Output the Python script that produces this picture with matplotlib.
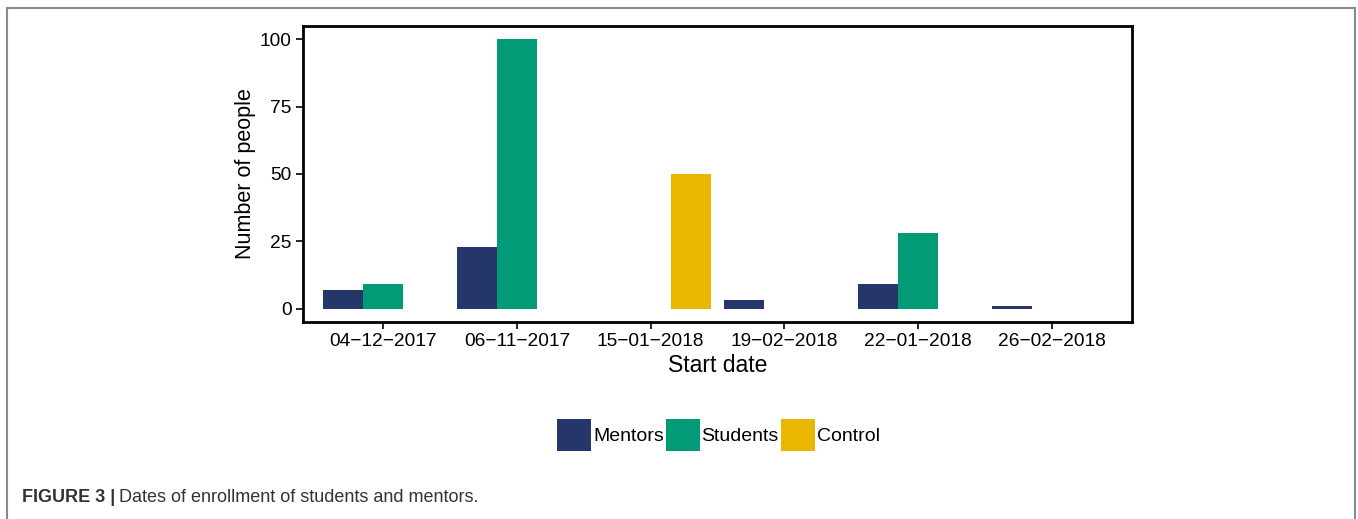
import numpy as np
import matplotlib.pyplot as plt
from matplotlib.lines import Line2D

plt.rcParams['font.family'] = ['Liberation Sans', 'DejaVu Sans']

dates = ["04\u221212\u22122017", "06\u221211\u22122017", "15\u221201\u22122018",
         "19\u221202\u22122018", "22\u221201\u22122018", "26\u221202\u22122018"]
mentors = [7, 23, 0, 3, 9, 1]
students = [9, 100, 0, 0, 28, 0]
control = [0, 0, 50, 0, 0, 0]

series = ["Mentors", "Students", "Control"]
colors = ["#24366a", "#029a77", "#e9b600"]

fig = plt.figure(figsize=(13.58, 5.19), dpi=100)
ax = fig.add_axes([0.2231, 0.3796, 0.6105, 0.5703])

x = np.arange(len(dates))
w = 0.3
for i, (vals, c, name) in enumerate(zip([mentors, students, control], colors, series)):
    ax.bar(x + (i - 1) * w, vals, width=w, color=c, label=name, linewidth=0)

ax.set_xlim(-0.6, len(dates) - 0.4)
ax.set_ylim(-5, 105)
ax.set_yticks([0, 25, 50, 75, 100])
ax.set_xticks(x)
ax.set_xticklabels(dates)
ax.tick_params(axis='both', direction='out', length=5, width=1.2, colors='black',
               labelsize=13.8, pad=3)
for s in ax.spines.values():
    s.set_linewidth(2)
    s.set_color('black')

ax.set_ylabel("Number of people", fontsize=15.5, labelpad=3)
ax.set_xlabel("Start date", fontsize=16.5, labelpad=3)

fig.legend(loc='center', bbox_to_anchor=(0.529, 0.162), ncol=3, frameon=False,
           fontsize=14, handlelength=1.75, handleheight=2.2, handletextpad=0.1,
           columnspacing=0.1, borderpad=0)

# outer frame of the figure panel
frame_col = '#8a8a8a'
fig.add_artist(Line2D([7 / 1358, 7 / 1358], [0, 1 - 8 / 519], transform=fig.transFigure,
                      color=frame_col, lw=1.5))
fig.add_artist(Line2D([7 / 1358, 1355 / 1358], [1 - 8 / 519, 1 - 8 / 519],
                      transform=fig.transFigure, color=frame_col, lw=1.5))
fig.add_artist(Line2D([1355 / 1358, 1355 / 1358], [0, 1 - 8 / 519], transform=fig.transFigure,
                      color=frame_col, lw=1.5))

t1 = fig.text(22 / 1358, 1 - 498 / 519, "FIGURE 3 |", fontsize=13, fontweight='bold',
              color='#333333', va='center')
fig.canvas.draw()
bb = t1.get_window_extent()
fig.text((bb.x1 + 4) / 1358, 1 - 498 / 519, "Dates of enrollment of students and mentors.",
         fontsize=13, color='#333333', va='center')

fig.savefig("out.png", dpi=100)
